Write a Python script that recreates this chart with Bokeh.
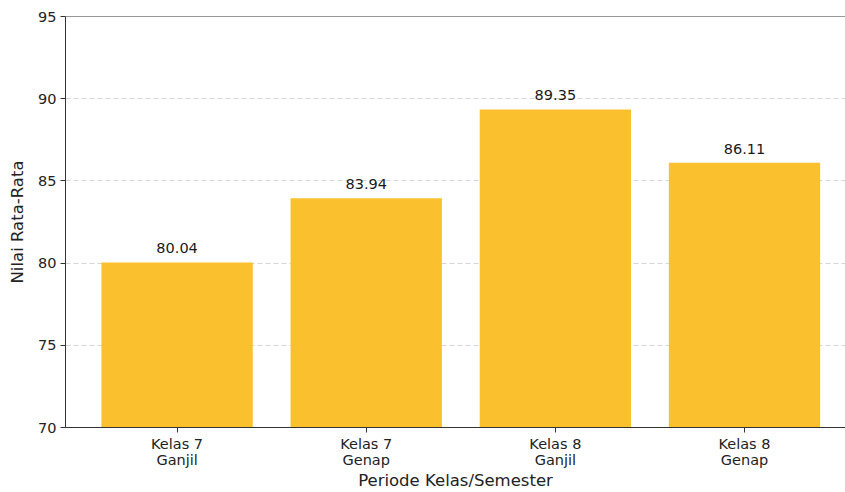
from bokeh.plotting import figure
from bokeh.models import ColumnDataSource, Range1d, FixedTicker, Span
from bokeh.core.properties import value
from bokeh.embed import file_html
from bokeh.resources import INLINE

categories = ["Kelas 7\nGanjil", "Kelas 7\nGenap", "Kelas 8\nGanjil", "Kelas 8\nGenap"]
values = [80.04, 83.94, 89.35, 86.11]
y_ticks = [70, 75, 80, 85, 90, 95]

xs = list(range(len(categories)))
labels = [f"{v:.2f}" for v in values]
src = ColumnDataSource(dict(x=xs, top=values, label=labels))

FONT = "DejaVu Sans"

p = figure(width=845, height=492, output_backend="svg", toolbar_location=None,
           x_range=Range1d(-0.59, 3.534), y_range=Range1d(70, 95),
           min_border_left=65, min_border_top=16, min_border_right=0, min_border_bottom=65)
p.outline_line_color = None
p.background_fill_color = "white"
p.border_fill_color = "white"

p.vbar(x="x", top="top", bottom=70, width=0.8, source=src,
       fill_color="#FBC02D", line_color=None)

p.text(x="x", y="top", text="label", source=src, text_align="center",
       text_baseline="bottom", y_offset=-9, text_font=value(FONT),
       text_font_size="14.5px", text_color="#1a1a1a")

# grid
p.xgrid.grid_line_color = None
p.ygrid.ticker = FixedTicker(ticks=[75, 80, 85, 90])
p.ygrid.grid_line_color = "#cccccc"
p.ygrid.grid_line_dash = "5 3"
p.ygrid.grid_line_width = 1
p.ygrid.grid_line_alpha = 0.8

# axes
for ax in (p.xaxis[0], p.yaxis[0]):
    ax.axis_line_color = "#333333"
    ax.major_tick_line_color = "#333333"
    ax.major_tick_out = 5
    ax.major_tick_in = 0
    ax.minor_tick_line_color = None
    ax.major_label_text_font = FONT
    ax.major_label_text_font_size = "14.5px"
    ax.major_label_text_color = "#222222"
    ax.axis_label_text_font = FONT
    ax.axis_label_text_font_size = "16.5px"
    ax.axis_label_text_font_style = "normal"
    ax.axis_label_text_color = "#222222"

p.xaxis.ticker = FixedTicker(ticks=xs)
p.xaxis.major_label_overrides = {i: c for i, c in enumerate(categories)}
p.xaxis.axis_label = "Periode Kelas/Semester"
p.xaxis.major_label_standoff = 3
p.xaxis.axis_label_standoff = 0
p.xaxis.major_label_text_line_height = 1.0

p.yaxis.ticker = FixedTicker(ticks=y_ticks)
p.yaxis.axis_label = "Nilai Rata-Rata"
p.yaxis.major_label_standoff = 4
p.yaxis.axis_label_standoff = 8

p.add_layout(Span(location=95, dimension="width", line_color="#333333", line_width=1.2))

open("out.html", "w").write(file_html(p, INLINE))
